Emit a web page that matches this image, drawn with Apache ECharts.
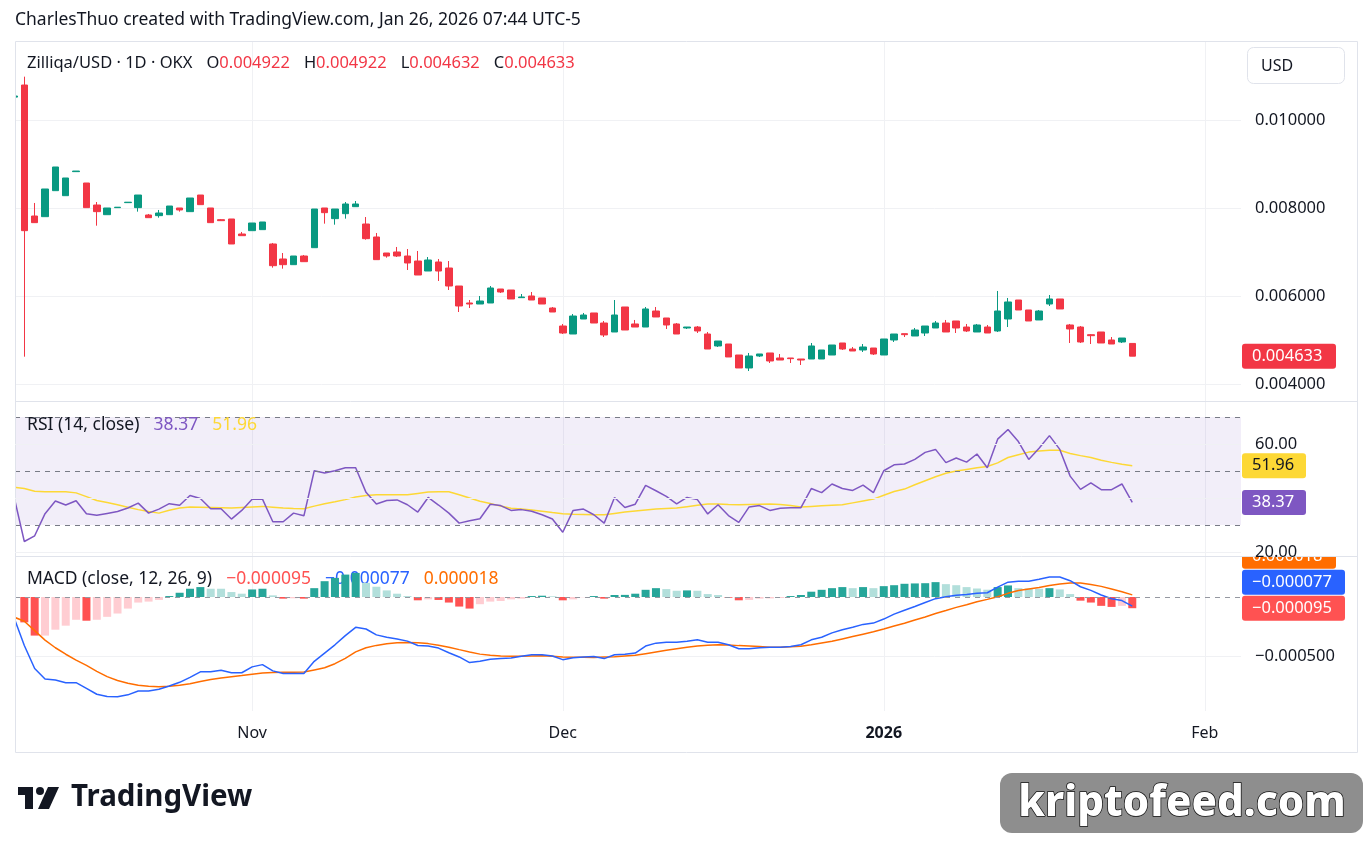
<!DOCTYPE html>
<html>
<head>
<meta charset="utf-8">
<title>Zilliqa/USD 1D OKX</title>
<script src="https://cdn.jsdelivr.net/npm/echarts@6.0.0/dist/echarts.min.js"></script>
<style>
  html, body { margin: 0; padding: 0; background: #ffffff; }
  #main { width: 1367px; height: 843px; }
</style>
</head>
<body>
<div id="main"></div>
<script>
// one bar per day, index 0 = 2025-10-09 (half hidden at the left edge), index 108 = last bar
const open = [
  0.010520, 0.010795, 0.007818, 0.007803, 0.008394, 0.008280, 0.008826, 0.008568, 0.008068, 0.007848,
  0.008008, 0.008122, 0.008008, 0.007841, 0.007826, 0.007848, 0.008000, 0.007917, 0.008295, 0.008000,
  0.007735, 0.007750, 0.007409, 0.007485, 0.007508, 0.007182, 0.006841, 0.006712, 0.006909, 0.007098,
  0.008000, 0.007758, 0.007871, 0.008030, 0.007636, 0.007341, 0.006977, 0.007000, 0.006909, 0.006795,
  0.006568, 0.006773, 0.006636, 0.006227, 0.005841, 0.005818, 0.005841, 0.006159, 0.006136, 0.005962,
  0.006000, 0.005955, 0.005727, 0.005318, 0.005136, 0.005477, 0.005614, 0.005386, 0.005182, 0.005750,
  0.005364, 0.005295, 0.005659, 0.005500, 0.005364, 0.005273, 0.005295, 0.005136, 0.004864, 0.004909,
  0.004659, 0.004364, 0.004636, 0.004705, 0.004591, 0.004591, 0.004568, 0.004568, 0.004568, 0.004659,
  0.004932, 0.004795, 0.004773, 0.004818, 0.004659, 0.005000, 0.005144, 0.005091, 0.005159, 0.005273,
  0.005386, 0.005432, 0.005295, 0.005182, 0.005295, 0.005205, 0.005477, 0.005909, 0.005682, 0.005455,
  0.005818, 0.005932, 0.005341, 0.005295, 0.005121, 0.005182, 0.005000, 0.004955, 0.004922
];
const close = [
  0.010545, 0.007485, 0.007667, 0.008432, 0.008932, 0.008682, 0.008840, 0.008008, 0.007917, 0.008000,
  0.008018, 0.008132, 0.008295, 0.007780, 0.007886, 0.008045, 0.007955, 0.008227, 0.008076, 0.007667,
  0.007712, 0.007182, 0.007371, 0.007659, 0.007682, 0.006689, 0.006712, 0.006909, 0.006780, 0.007977,
  0.007894, 0.007977, 0.008091, 0.008091, 0.007303, 0.006826, 0.006909, 0.006909, 0.006750, 0.006477,
  0.006818, 0.006568, 0.006227, 0.005773, 0.005818, 0.005886, 0.006182, 0.006091, 0.005932, 0.005977,
  0.005909, 0.005818, 0.005636, 0.005159, 0.005545, 0.005568, 0.005386, 0.005114, 0.005568, 0.005227,
  0.005295, 0.005705, 0.005523, 0.005341, 0.005136, 0.005295, 0.005205, 0.004795, 0.004977, 0.004614,
  0.004364, 0.004636, 0.004682, 0.004523, 0.004545, 0.004576, 0.004545, 0.004864, 0.004773, 0.004886,
  0.004795, 0.004750, 0.004841, 0.004682, 0.005023, 0.005136, 0.005121, 0.005227, 0.005318, 0.005386,
  0.005182, 0.005273, 0.005205, 0.005341, 0.005159, 0.005659, 0.005864, 0.005682, 0.005432, 0.005659,
  0.005932, 0.005705, 0.005250, 0.004955, 0.005098, 0.004932, 0.004909, 0.005045, 0.004633
];
const low = [
  0.010510, 0.004621, 0.007667, 0.007803, 0.008394, 0.008280, 0.008826, 0.008008, 0.007598, 0.007848,
  0.008008, 0.008122, 0.007917, 0.007780, 0.007780, 0.007848, 0.007917, 0.007917, 0.008076, 0.007667,
  0.007712, 0.007182, 0.007371, 0.007485, 0.007508, 0.006644, 0.006621, 0.006712, 0.006780, 0.007098,
  0.007644, 0.007621, 0.007758, 0.008030, 0.007280, 0.006826, 0.006871, 0.006886, 0.006591, 0.006477,
  0.006568, 0.006341, 0.006136, 0.005636, 0.005727, 0.005818, 0.005841, 0.006068, 0.005932, 0.005962,
  0.005909, 0.005818, 0.005636, 0.005136, 0.005136, 0.005477, 0.005386, 0.005068, 0.005182, 0.005227,
  0.005295, 0.005295, 0.005523, 0.005250, 0.005136, 0.005250, 0.005159, 0.004795, 0.004841, 0.004614,
  0.004364, 0.004295, 0.004614, 0.004477, 0.004545, 0.004477, 0.004432, 0.004568, 0.004568, 0.004659,
  0.004773, 0.004750, 0.004727, 0.004659, 0.004659, 0.004955, 0.005068, 0.005091, 0.005091, 0.005273,
  0.005182, 0.005159, 0.005182, 0.005182, 0.005159, 0.005182, 0.005295, 0.005682, 0.005432, 0.005455,
  0.005773, 0.005705, 0.004932, 0.004932, 0.004909, 0.004932, 0.004909, 0.004932, 0.004632
];
const high = [
  0.010560, 0.010985, 0.008114, 0.008432, 0.008932, 0.008682, 0.008840, 0.008568, 0.008136, 0.008000,
  0.008018, 0.008132, 0.008295, 0.007864, 0.007955, 0.008045, 0.008000, 0.008227, 0.008295, 0.008000,
  0.007750, 0.007750, 0.007455, 0.007659, 0.007682, 0.007205, 0.006977, 0.006909, 0.006932, 0.007977,
  0.008000, 0.007977, 0.008136, 0.008159, 0.007795, 0.007432, 0.006977, 0.007114, 0.007068, 0.007023,
  0.006886, 0.006841, 0.006795, 0.006227, 0.005909, 0.006000, 0.006227, 0.006159, 0.006136, 0.006045,
  0.006091, 0.005955, 0.005750, 0.005364, 0.005591, 0.005614, 0.005614, 0.005432, 0.005909, 0.005750,
  0.005455, 0.005750, 0.005750, 0.005500, 0.005386, 0.005295, 0.005318, 0.005182, 0.004977, 0.004909,
  0.004659, 0.004705, 0.004682, 0.004705, 0.004682, 0.004591, 0.004568, 0.004932, 0.004773, 0.004886,
  0.004932, 0.004841, 0.004909, 0.004818, 0.005023, 0.005136, 0.005144, 0.005273, 0.005318, 0.005432,
  0.005455, 0.005432, 0.005364, 0.005364, 0.005341, 0.006114, 0.005955, 0.005909, 0.005682, 0.005682,
  0.006023, 0.005932, 0.005364, 0.005318, 0.005136, 0.005182, 0.005068, 0.005045, 0.004922
];

const rsi = [
  40.6, 23.9, 26.0, 34.2, 38.9, 37.4, 39.0, 34.2, 33.6, 34.3,
  35.0, 36.3, 38.1, 34.4, 35.9, 37.9, 37.3, 40.9, 39.8, 36.0,
  36.0, 32.2, 35.4, 39.5, 39.6, 31.2, 31.2, 34.4, 33.4, 50.1,
  49.3, 50.1, 51.2, 51.2, 42.1, 37.8, 39.1, 39.3, 37.5, 34.8,
  40.2, 37.4, 34.4, 30.7, 31.6, 32.3, 37.7, 37.2, 35.4, 35.7,
  35.1, 33.8, 32.2, 27.3, 35.4, 35.9, 33.8, 30.7, 40.2, 36.5,
  37.7, 44.7, 42.7, 40.6, 37.8, 40.2, 39.4, 34.1, 37.5, 33.5,
  31.0, 36.7, 37.2, 35.4, 36.2, 36.4, 36.4, 43.5, 42.0, 45.2,
  43.5, 42.8, 44.8, 42.0, 50.1, 52.3, 52.6, 54.3, 56.9, 58.0,
  53.1, 54.8, 53.3, 56.3, 51.2, 61.8, 65.4, 60.9, 54.3, 58.4,
  63.1, 58.0, 48.1, 43.2, 45.6, 43.1, 43.1, 45.2, 38.37
];
const rsiMa = [
  44.0, 43.5, 42.5, 42.3, 42.3, 42.3, 41.9, 40.5, 39.1, 38.3,
  37.5, 36.6, 35.7, 35.0, 34.4, 35.5, 36.3, 36.7, 36.6, 36.5,
  36.4, 36.3, 36.5, 36.7, 36.9, 36.6, 36.3, 36.1, 36.0, 37.0,
  37.9, 38.6, 39.4, 40.4, 40.9, 41.2, 41.2, 41.2, 41.2, 41.7,
  42.2, 42.3, 42.3, 41.2, 40.0, 38.8, 38.0, 37.0, 36.2, 35.9,
  35.6, 35.1, 34.6, 34.2, 34.0, 33.9, 33.8, 33.8, 34.3, 34.8,
  35.2, 35.6, 35.9, 36.1, 36.3, 36.8, 37.3, 37.8, 37.8, 37.6,
  37.5, 37.6, 37.7, 37.8, 37.6, 37.2, 36.7, 36.9, 37.1, 37.3,
  37.5, 38.2, 38.9, 39.6, 41.0, 42.4, 43.3, 44.9, 46.4, 47.9,
  49.2, 50.0, 50.6, 51.2, 51.7, 53.0, 55.0, 56.0, 57.0, 57.4,
  57.7, 57.7, 56.5, 55.7, 55.0, 54.0, 53.2, 52.5, 51.96
];

// MACD (12, 26, 9)
const macdLine = [
  -0.000173, -0.000411, -0.000606, -0.000695, -0.000704, -0.000726, -0.000726, -0.000774, -0.000824, -0.000843,
  -0.000846, -0.000829, -0.000796, -0.000796, -0.000782, -0.000754, -0.000723, -0.000681, -0.000634, -0.000634,
  -0.000620, -0.000642, -0.000642, -0.000592, -0.000573, -0.000626, -0.000648, -0.000648, -0.000648, -0.000545,
  -0.000475, -0.000405, -0.000327, -0.000257, -0.000271, -0.000321, -0.000341, -0.000355, -0.000374, -0.000411,
  -0.000416, -0.000433, -0.000472, -0.000508, -0.000556, -0.000545, -0.000528, -0.000522, -0.000517, -0.000503,
  -0.000489, -0.000489, -0.000500, -0.000531, -0.000515, -0.000508, -0.000504, -0.000522, -0.000489, -0.000486,
  -0.000475, -0.000416, -0.000391, -0.000383, -0.000383, -0.000374, -0.000363, -0.000383, -0.000383, -0.000405,
  -0.000438, -0.000438, -0.000430, -0.000425, -0.000425, -0.000419, -0.000405, -0.000363, -0.000341, -0.000304,
  -0.000277, -0.000257, -0.000232, -0.000221, -0.000187, -0.000145, -0.000112, -0.000081, -0.000047, -0.000014,
  0.000003, 0.000014, 0.000022, 0.000031, 0.000036, 0.000084, 0.000126, 0.000134, 0.000134, 0.000150,
  0.000170, 0.000170, 0.000138, 0.000087, 0.000056, 0.000017, -0.000015, -0.000030, -0.000077
];
const signalLine = [
  -0.000170, -0.000205, -0.000285, -0.000365, -0.000430, -0.000485, -0.000535, -0.000580, -0.000630, -0.000675,
  -0.000708, -0.000730, -0.000748, -0.000757, -0.000760, -0.000757, -0.000748, -0.000735, -0.000716, -0.000700,
  -0.000686, -0.000676, -0.000666, -0.000655, -0.000644, -0.000640, -0.000638, -0.000638, -0.000636, -0.000618,
  -0.000600, -0.000565, -0.000520, -0.000465, -0.000430, -0.000410, -0.000396, -0.000388, -0.000385, -0.000388,
  -0.000395, -0.000408, -0.000425, -0.000446, -0.000466, -0.000484, -0.000494, -0.000500, -0.000503, -0.000503,
  -0.000500, -0.000498, -0.000502, -0.000508, -0.000510, -0.000510, -0.000512, -0.000508, -0.000506, -0.000500,
  -0.000494, -0.000480, -0.000466, -0.000452, -0.000438, -0.000426, -0.000415, -0.000408, -0.000405, -0.000406,
  -0.000412, -0.000416, -0.000420, -0.000425, -0.000425, -0.000421, -0.000418, -0.000405, -0.000390, -0.000375,
  -0.000355, -0.000335, -0.000315, -0.000295, -0.000271, -0.000245, -0.000222, -0.000195, -0.000170, -0.000140,
  -0.000115, -0.000088, -0.000065, -0.000040, -0.000020, 0.000002, 0.000031, 0.000055, 0.000068, 0.000080,
  0.000097, 0.000110, 0.000118, 0.000118, 0.000105, 0.000090, 0.000068, 0.000045, 0.000018
];
const histogram = [
  -0.000003, -0.000215, -0.000327, -0.000327, -0.000277, -0.000243, -0.000193, -0.000201, -0.000193, -0.000168,
  -0.000140, -0.000098, -0.000047, -0.000039, -0.000025, 0.000008, 0.000036, 0.000070, 0.000084, 0.000070,
  0.000070, 0.000042, 0.000028, 0.000064, 0.000070, 0.000014, -0.000014, -0.000011, -0.000014, 0.000075,
  0.000134, 0.000162, 0.000190, 0.000204, 0.000120, 0.000087, 0.000056, 0.000028, 0.000008, -0.000028,
  -0.000020, -0.000025, -0.000047, -0.000081, -0.000098, -0.000061, -0.000039, -0.000034, -0.000020, -0.000014,
  0.000008, 0.000011, 0.000006, -0.000028, -0.000020, -0.000002, 0.000008, -0.000014, 0.000017, 0.000018,
  0.000028, 0.000061, 0.000075, 0.000067, 0.000053, 0.000056, 0.000053, 0.000025, 0.000017, -0.000006,
  -0.000028, -0.000025, -0.000014, -0.000012, -0.000008, 0.000008, 0.000017, 0.000045, 0.000061, 0.000075,
  0.000084, 0.000075, 0.000084, 0.000075, 0.000092, 0.000100, 0.000112, 0.000115, 0.000117, 0.000126,
  0.000109, 0.000100, 0.000084, 0.000072, 0.000062, 0.000084, 0.000098, 0.000075, 0.000072, 0.000070,
  0.000075, 0.000064, 0.000025, -0.000031, -0.000047, -0.000075, -0.000084, -0.000075, -0.000095
];

// time axis: day indexes of the month starts and their labels
const timeTicks = [23, 53, 84, 115];
const timeLabels = ['Nov', 'Dec', '2026', 'Feb'];
const priceTicks = [0.004, 0.006, 0.008, 0.010];
const rsiGridTicks = [20, 40, 60];
const rsiLabelTicks = [20, 60];
const rsiBands = [70, 50, 30];
const macdTicks = [-0.0005];

const FONT = '"Noto Sans", "Open Sans", sans-serif';
const TEXT = '#131722';
const GRID = '#f0f1f4';
const BORDER = '#e0e3eb';
const UP = '#089981';
const DOWN = '#f23645';
const last = close.length - 1;

const idx = close.map((_, i) => i);
const candles = idx.map(i => [i, open[i], close[i], low[i], high[i]]);
const pair = arr => idx.map(i => [i, arr[i]]);
const minus = v => (v < 0 ? '\u2212' : '') + Math.abs(v).toFixed(6);
const rt = (color, size) => ({fontFamily: FONT, fontSize: size || 16, fontWeight: 'normal', color: color, lineHeight: 20});

const chart = echarts.init(document.getElementById('main'), null, {renderer: 'canvas'});

function xAxisFor(gi, withLabels) {
  return {
    type: 'value', gridIndex: gi, min: 0.1, max: 118.5,
    axisLine: {show: false},
    axisTick: {show: false, customValues: timeTicks},
    splitLine: {show: true, lineStyle: {color: GRID, width: 1}},
    axisLabel: withLabels ? {
      show: true, customValues: timeTicks, margin: 14,
      fontFamily: FONT, fontSize: 16, color: TEXT,
      formatter: v => {
        const t = timeLabels[timeTicks.indexOf(Math.round(v))] || '';
        return t === '2026' ? '{b|' + t + '}' : t;
      },
      rich: {b: {fontFamily: FONT, fontSize: 16, fontWeight: 'bold', color: TEXT}}
    } : {show: false}
  };
}

const option = {
  animation: false,
  backgroundColor: '#ffffff',
  textStyle: {fontFamily: FONT},
  title: [
    {
      left: 15, top: 10, padding: 0,
      text: 'CharlesThuo created with TradingView.com, Jan 26, 2026 07:44 UTC-5',
      textStyle: {fontFamily: FONT, fontSize: 17.5, fontWeight: 'normal', color: TEXT, lineHeight: 20}
    },
    {
      left: 27, top: 53, padding: 0,
      text: '{n|Zilliqa/USD \u00b7 1D \u00b7 OKX}   {n|O}{v|' + open[last].toFixed(6) + '}   {n|H}{v|' +
        high[last].toFixed(6) + '}   {n|L}{v|' + low[last].toFixed(6) + '}   {n|C}{v|' + close[last].toFixed(6) + '}',
      textStyle: {fontWeight: 'normal', rich: {n: rt(TEXT, 16.5), v: rt(DOWN, 16.5)}}
    },
    {
      left: 27, top: 415, padding: 0,
      text: '{n|RSI (14, close)}   {p|' + rsi[last].toFixed(2) + '}   {y|' + rsiMa[last].toFixed(2) + '}',
      textStyle: {fontWeight: 'normal', rich: {n: rt(TEXT, 17.5), p: rt('#7e57c2', 17.5), y: rt('#fdd835', 17.5)}}
    },
    {
      left: 27, top: 569, padding: 0, z: 1,
      text: '{n|MACD (close, 12, 26, 9)}   {r|' + minus(histogram[last]) + '}   {b|' + minus(macdLine[last]) +
        '}   {o|' + minus(signalLine[last]) + '}',
      textStyle: {fontWeight: 'normal', rich: {n: rt(TEXT, 17.5), r: rt('#ff5252', 17.5), b: rt('#2962ff', 17.5), o: rt('#ff6d00', 17.5)}}
    }
  ],
  grid: [
    {left: 15, right: 126, top: 42, height: 359},
    {left: 15, right: 126, top: 402, height: 154},
    {left: 15, right: 126, top: 557, height: 154}
  ],
  xAxis: [xAxisFor(0, false), xAxisFor(1, false), xAxisFor(2, true)],
  yAxis: [
    {
      type: 'value', gridIndex: 0, position: 'right', min: 0.0036136, max: 0.0117727,
      axisLine: {show: false},
      axisTick: {show: false, customValues: priceTicks},
      splitLine: {show: true, lineStyle: {color: GRID}},
      axisLabel: {customValues: priceTicks, margin: 14, fontFamily: FONT, fontSize: 16.5, color: TEXT,
        formatter: v => v.toFixed(6)}
    },
    {
      type: 'value', gridIndex: 1, position: 'right', min: 18.52, max: 75.56, z: 30,
      axisLine: {show: false},
      axisTick: {show: false, customValues: rsiGridTicks},
      splitLine: {show: true, lineStyle: {color: GRID}},
      axisLabel: {customValues: rsiLabelTicks, margin: 14, fontFamily: FONT, fontSize: 16.5, color: TEXT,
        formatter: v => v.toFixed(2)}
    },
    {
      type: 'value', gridIndex: 2, position: 'right', min: -0.000966, max: 0.000339,
      axisLine: {show: false},
      axisTick: {show: false, customValues: macdTicks},
      splitLine: {show: true, lineStyle: {color: GRID}},
      axisLabel: {customValues: macdTicks, margin: 14, fontFamily: FONT, fontSize: 16.5, color: TEXT,
        formatter: v => minus(v)}
    }
  ],
  series: [
    {
      name: 'Zilliqa/USD', type: 'candlestick', xAxisIndex: 0, yAxisIndex: 0,
      data: candles, encode: {x: 0, y: [1, 2, 3, 4]},
      barWidth: 7, clip: true,
      itemStyle: {color: UP, color0: DOWN, borderColor: UP, borderColor0: DOWN, borderWidth: 1},
      markLine: {
        silent: true, symbol: 'none', label: {show: false},
        lineStyle: {color: DOWN, type: 'dotted', width: 1},
        data: [{yAxis: close[last]}]
      }
    },
    {
      name: 'RSI', type: 'line', xAxisIndex: 1, yAxisIndex: 1, data: pair(rsi),
      showSymbol: false, clip: true, lineStyle: {color: '#7e57c2', width: 1.5}, z: 4,
      markArea: {
        silent: true, itemStyle: {color: 'rgba(126, 87, 194, 0.1)'},
        data: [[{yAxis: 30}, {yAxis: 70}]]
      },
      markLine: {
        silent: true, symbol: 'none', label: {show: false},
        lineStyle: {color: '#787b86', type: [5, 5], width: 1},
        data: rsiBands.map(v => ({yAxis: v}))
      }
    },
    {
      name: 'RSI MA', type: 'line', xAxisIndex: 1, yAxisIndex: 1, data: pair(rsiMa),
      showSymbol: false, clip: true, lineStyle: {color: '#fdd835', width: 1.5}, z: 3
    },
    {
      name: 'Histogram', type: 'bar', xAxisIndex: 2, yAxisIndex: 2, data: pair(histogram),
      barWidth: 8, clip: true,
      itemStyle: {
        color: p => {
          const i = p.dataIndex, v = histogram[i], pv = i > 0 ? histogram[i - 1] : v;
          if (v >= 0) return v > pv ? '#26a69a' : '#b2dfdb';
          return v < pv ? '#ff5252' : '#ffcdd2';
        }
      },
      markLine: {
        silent: true, symbol: 'none', label: {show: false},
        lineStyle: {color: '#9598a1', type: [5, 5], width: 1},
        data: [{yAxis: 0}]
      }
    },
    {
      name: 'MACD', type: 'line', xAxisIndex: 2, yAxisIndex: 2, data: pair(macdLine),
      showSymbol: false, clip: true, lineStyle: {color: '#2962ff', width: 1.5}, z: 4
    },
    {
      name: 'Signal', type: 'line', xAxisIndex: 2, yAxisIndex: 2, data: pair(signalLine),
      showSymbol: false, clip: true, lineStyle: {color: '#ff6d00', width: 1.5}, z: 3
    }
  ]
};

chart.setOption(option);

/* price scale tags on the right, placed through the axes */
function tag(yc, w, bg, fg, text) {
  return [
    {type: 'rect', z: 20, shape: {x: 1242, y: yc - 12.5, width: w, height: 25, r: 3}, style: {fill: bg}},
    {type: 'text', z: 21, x: 1252, y: yc,
      style: {text: text, fill: fg, font: '16.5px ' + FONT, textVerticalAlign: 'middle', verticalAlign: 'middle'}}
  ];
}
const yPrice = chart.convertToPixel({yAxisIndex: 0}, close[last]);
const yRsi = chart.convertToPixel({yAxisIndex: 1}, rsi[last]);
const yRsiMa = chart.convertToPixel({yAxisIndex: 1}, rsiMa[last]);
const yHist = chart.convertToPixel({yAxisIndex: 2}, histogram[last]);

const graphics = [
  // hide the part of the first bar that falls left of the pane
  {type: 'rect', z: 19, shape: {x: 0, y: 42, width: 15, height: 670}, style: {fill: '#ffffff'}},
  // chart frame and pane separators
  {type: 'rect', z: 25, shape: {x: 15.5, y: 41.5, width: 1342, height: 711}, style: {fill: 'none', stroke: BORDER, lineWidth: 1}},
  {type: 'line', z: 25, shape: {x1: 15, y1: 401.5, x2: 1357, y2: 401.5}, style: {stroke: BORDER, lineWidth: 1}},
  {type: 'line', z: 25, shape: {x1: 15, y1: 556.5, x2: 1357, y2: 556.5}, style: {stroke: BORDER, lineWidth: 1}},
  // currency button
  {type: 'rect', z: 20, shape: {x: 1247.5, y: 47.5, width: 97, height: 36, r: 6}, style: {fill: '#ffffff', stroke: BORDER, lineWidth: 1}},
  {type: 'text', z: 21, x: 1261, y: 66, style: {text: 'USD', fill: TEXT, font: '16px ' + FONT, textVerticalAlign: 'middle', verticalAlign: 'middle'}},
  ...tag(yPrice, 94, DOWN, '#ffffff', close[last].toFixed(6)),
  ...tag(yRsiMa, 64, '#fdd835', TEXT, rsiMa[last].toFixed(2)),
  ...tag(yRsi, 64, '#7e57c2', '#ffffff', rsi[last].toFixed(2)),
  ...tag(yHist, 103, '#ff5252', '#ffffff', minus(histogram[last])),
  ...tag(yHist - 26, 103, '#2962ff', '#ffffff', minus(macdLine[last])),
  ...tag(yHist - 52, 94, '#ff6d00', '#ffffff', minus(signalLine[last])),
  // the RSI pane hides the top of the stacked orange tag
  {type: 'rect', z: 22, shape: {x: 1241, y: 530, width: 115, height: 26.5}, style: {fill: '#ffffff'}},
  // TradingView logo
  {type: 'rect', z: 20, shape: {x: 18, y: 787, width: 15, height: 8}, style: {fill: TEXT}},
  {type: 'rect', z: 20, shape: {x: 25, y: 787, width: 8, height: 22}, style: {fill: TEXT}},
  {type: 'circle', z: 20, shape: {cx: 40, cy: 791, r: 4}, style: {fill: TEXT}},
  {type: 'polygon', z: 20, shape: {points: [[48, 787], [59, 787], [49, 809], [38, 809]]}, style: {fill: TEXT}},
  {type: 'text', z: 20, x: 71, y: 798,
    style: {text: 'TradingView', fill: TEXT, font: 'bold 29.5px ' + FONT, textVerticalAlign: 'middle', verticalAlign: 'middle'}},
  // kriptofeed badge
  {type: 'rect', z: 20, shape: {x: 1000, y: 773, width: 363, height: 60, r: 12}, style: {fill: '#8e8e8e'}},
  {type: 'text', z: 21, x: 1182, y: 804,
    style: {text: 'kriptofeed.com', fill: '#ffffff', font: '800 42px ' + FONT,
      textAlign: 'center', align: 'center', textVerticalAlign: 'middle', verticalAlign: 'middle',
      stroke: '#111111', lineWidth: 1.5,
      textShadowColor: '#000000', textShadowOffsetX: 2, textShadowOffsetY: 3, textShadowBlur: 0}}
];

chart.setOption({graphic: graphics});
</script>
</body>
</html>
